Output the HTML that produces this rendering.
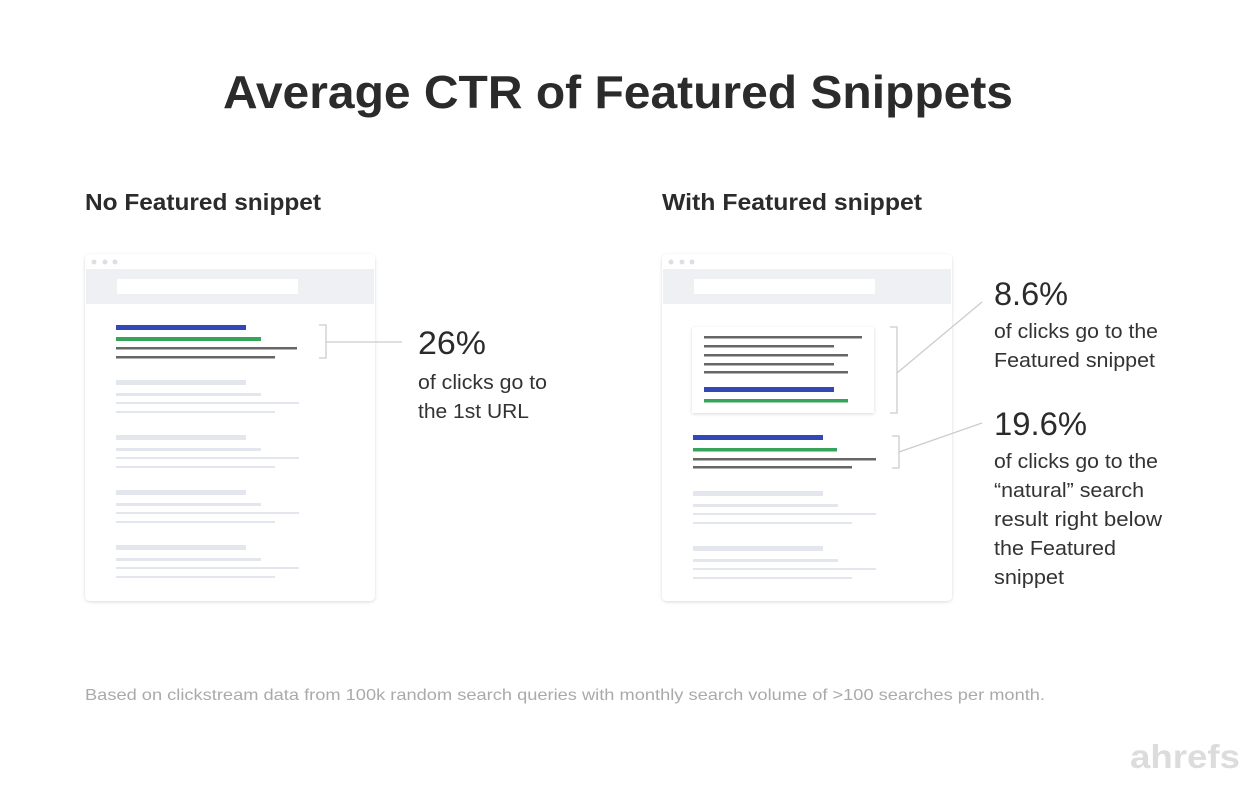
<!DOCTYPE html>
<html><head><meta charset="utf-8"><style>
html,body{margin:0;padding:0;background:#fff;}
svg{display:block;}
text{font-family:"Liberation Sans",sans-serif;}
</style></head><body>
<svg width="1252" height="786" viewBox="0 0 1252 786" xmlns="http://www.w3.org/2000/svg">
<defs><filter id="sh" x="-5%" y="-5%" width="110%" height="110%"><feDropShadow dx="0" dy="1" stdDeviation="1.5" flood-color="#000" flood-opacity="0.15"/></filter></defs>
<text x="223" y="108" font-size="46" font-weight="bold" fill="#2b2b2b" textLength="790" lengthAdjust="spacingAndGlyphs">Average CTR of Featured Snippets</text>
<text x="85" y="210" font-size="23" font-weight="bold" fill="#2b2b2b" textLength="236" lengthAdjust="spacingAndGlyphs">No Featured snippet</text>
<text x="662" y="210" font-size="23" font-weight="bold" fill="#2b2b2b" textLength="260" lengthAdjust="spacingAndGlyphs">With Featured snippet</text>

<!-- left browser -->
<g>
<rect x="85" y="254" width="290" height="347" rx="5" fill="#fff" filter="url(#sh)"/>
<rect x="86" y="269" width="288" height="35" fill="#eef0f3"/>
<circle cx="94" cy="262" r="2.5" fill="#dcdfe3"/><circle cx="105" cy="262" r="2.5" fill="#dcdfe3"/><circle cx="115" cy="262" r="2.5" fill="#dcdfe3"/>
<rect x="117" y="279" width="181" height="15" fill="#fff"/>
<rect x="116" y="325" width="130" height="5" fill="#3247b8"/>
<rect x="116" y="337" width="145" height="4" fill="#36a55b"/>
<rect x="116" y="347" width="181" height="2.5" fill="#666"/>
<rect x="116" y="356" width="159" height="2.5" fill="#666"/>
<g fill="#e3e6ec">
<rect x="116" y="380" width="130" height="5"/><rect x="116" y="393" width="145" height="3"/><rect x="116" y="402" width="183" height="2"/><rect x="116" y="411" width="159" height="2"/>
<rect x="116" y="435" width="130" height="5"/><rect x="116" y="448" width="145" height="3"/><rect x="116" y="457" width="183" height="2"/><rect x="116" y="466" width="159" height="2"/>
<rect x="116" y="490" width="130" height="5"/><rect x="116" y="503" width="145" height="3"/><rect x="116" y="512" width="183" height="2"/><rect x="116" y="521" width="159" height="2"/>
<rect x="116" y="545" width="130" height="5"/><rect x="116" y="558" width="145" height="3"/><rect x="116" y="567" width="183" height="2"/><rect x="116" y="576" width="159" height="2"/>
</g>
<path d="M319 325 H326 V358 H319 M326 342 H402" fill="none" stroke="#ccc" stroke-width="1.3"/>
</g>
<text x="418" y="354" font-size="32" fill="#2b2b2b" textLength="68" lengthAdjust="spacingAndGlyphs">26%</text>
<text x="418" y="389" font-size="20" fill="#333" textLength="129" lengthAdjust="spacingAndGlyphs">of clicks go to</text>
<text x="418" y="418" font-size="20" fill="#333" textLength="111" lengthAdjust="spacingAndGlyphs">the 1st URL</text>

<!-- right browser -->
<g>
<rect x="662" y="254" width="290" height="347" rx="5" fill="#fff" filter="url(#sh)"/>
<rect x="663" y="269" width="288" height="35" fill="#eef0f3"/>
<circle cx="671" cy="262" r="2.5" fill="#dcdfe3"/><circle cx="682" cy="262" r="2.5" fill="#dcdfe3"/><circle cx="692" cy="262" r="2.5" fill="#dcdfe3"/>
<rect x="694" y="279" width="181" height="15" fill="#fff"/>
<rect x="692" y="327" width="182" height="86" fill="#fff" filter="url(#sh)"/>
<g fill="#666">
<rect x="704" y="336" width="158" height="2.5"/><rect x="704" y="345" width="130" height="2.5"/><rect x="704" y="354" width="144" height="2.5"/><rect x="704" y="363" width="130" height="2.5"/><rect x="704" y="371" width="144" height="2.5"/>
</g>
<rect x="704" y="387" width="130" height="5" fill="#3247b8"/>
<rect x="704" y="399" width="144" height="3.5" fill="#36a55b"/>
<rect x="693" y="435" width="130" height="5" fill="#3247b8"/>
<rect x="693" y="448" width="144" height="3.5" fill="#36a55b"/>
<rect x="693" y="458" width="183" height="2.5" fill="#666"/>
<rect x="693" y="466" width="159" height="2.5" fill="#666"/>
<g fill="#e3e6ec">
<rect x="693" y="491" width="130" height="5"/><rect x="693" y="504" width="145" height="3"/><rect x="693" y="513" width="183" height="2"/><rect x="693" y="522" width="159" height="2"/>
<rect x="693" y="546" width="130" height="5"/><rect x="693" y="559" width="145" height="3"/><rect x="693" y="568" width="183" height="2"/><rect x="693" y="577" width="159" height="2"/>
</g>
<path d="M890 327 H897 V413 H890 M897 373 L982 302" fill="none" stroke="#ccc" stroke-width="1.3"/>
<path d="M892 436 H899 V468 H892 M899 452 L982 423" fill="none" stroke="#ccc" stroke-width="1.3"/>
</g>
<text x="994" y="305" font-size="32" fill="#2b2b2b" textLength="74" lengthAdjust="spacingAndGlyphs">8.6%</text>
<text x="994" y="338" font-size="20" fill="#333" textLength="164" lengthAdjust="spacingAndGlyphs">of clicks go to the</text>
<text x="994" y="367" font-size="20" fill="#333" textLength="161" lengthAdjust="spacingAndGlyphs">Featured snippet</text>
<text x="994" y="435" font-size="32" fill="#2b2b2b" textLength="93" lengthAdjust="spacingAndGlyphs">19.6%</text>
<text x="994" y="468" font-size="20" fill="#333" textLength="164" lengthAdjust="spacingAndGlyphs">of clicks go to the</text>
<text x="994" y="497" font-size="20" fill="#333" textLength="150" lengthAdjust="spacingAndGlyphs">“natural” search</text>
<text x="994" y="526" font-size="20" fill="#333" textLength="168" lengthAdjust="spacingAndGlyphs">result right below</text>
<text x="994" y="555" font-size="20" fill="#333" textLength="122" lengthAdjust="spacingAndGlyphs">the Featured</text>
<text x="994" y="584" font-size="20" fill="#333" textLength="70" lengthAdjust="spacingAndGlyphs">snippet</text>

<text x="85" y="700" font-size="16" fill="#aaa" textLength="960" lengthAdjust="spacingAndGlyphs">Based on clickstream data from 100k random search queries with monthly search volume of &gt;100 searches per month.</text>
<text x="1130" y="768" font-size="33" font-weight="bold" fill="#dcdcdc" textLength="110" lengthAdjust="spacingAndGlyphs">ahrefs</text>
</svg>
</body></html>
